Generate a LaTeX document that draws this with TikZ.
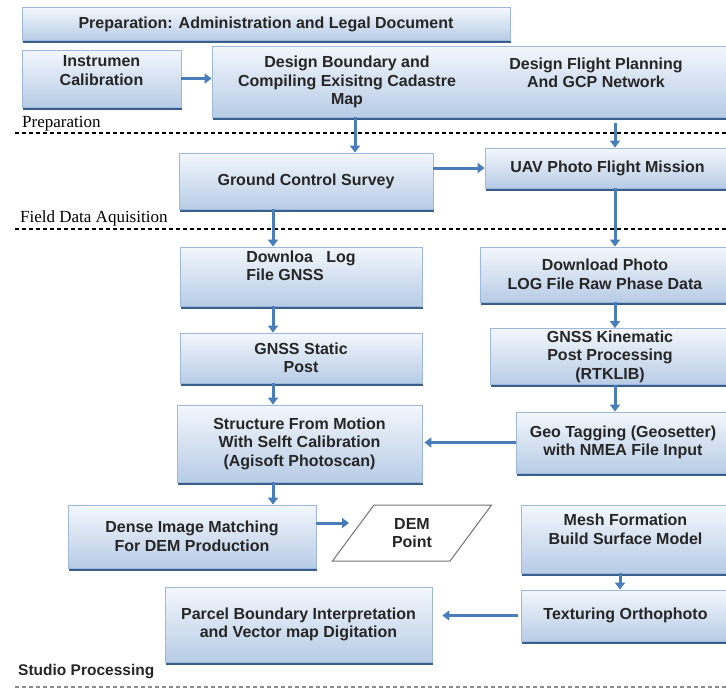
\documentclass[tikz,border=0pt]{standalone}
\usepackage{fontspec}
\setmainfont{Liberation Sans}
\newfontfamily\serifface{Liberation Serif}
\usepackage{tikz}
\usetikzlibrary{arrows.meta,shadows,shapes.geometric}
\definecolor{boxtop}{HTML}{F3F7FC}
\definecolor{boxbot}{HTML}{B7CCE6}
\definecolor{boxline}{HTML}{9DB8DB}
\definecolor{boxshade}{HTML}{3A5F8C}
\definecolor{flowblue}{HTML}{4A7EBB}

\begin{document}
\begin{tikzpicture}[x=1pt,y=-1pt,
    box/.style={rectangle,draw=boxline,line width=0.8pt,top color=boxtop,bottom color=boxbot,
        drop shadow={shadow xshift=1pt,shadow yshift=-2.5pt,fill=boxshade,opacity=1},
        font=\fontsize{16}{18.5}\selectfont\bfseries,text=black!85,align=center,inner sep=2pt},
    boxtext/.style={font=\fontsize{16}{18.5}\selectfont\bfseries,text=black!85,align=center},
    flow/.style={draw=flowblue,line width=3pt,-{Triangle[width=10pt,length=7pt]}},
    sep/.style={dashed,dash pattern=on 4pt off 3pt,line width=1.2pt},
    phase/.style={anchor=south west,inner sep=0pt,font=\serifface\fontsize{17}{17}\selectfont}]
    \useasboundingbox (0,0) rectangle (726,688);
    \node[box,minimum width=488,minimum height=33] (admin) at (266,24) {Preparation: Administration and Legal Document};
    \node[box,minimum width=159,minimum height=57,text depth=16pt] (calib) at (101.5,78.5) {Instrumen\\Calibration};
    \node[box,minimum width=518,minimum height=71] (design) at (471,81.5) {};
    \node[boxtext] (cadastre) at (347,82) {Design Boundary and\\Compiling Exisitng Cadastre\\Map};
    \node[boxtext] (flightplan) at (596,73) {Design Flight Planning\\And GCP Network};
    \node[box,minimum width=254,minimum height=56] (gcs) at (306,181) {Ground Control Survey};
    \node[box,minimum width=245,minimum height=40] (uav) at (607.5,168) {UAV Photo Flight Mission};
    \node[box,minimum width=242,minimum height=59,align=left,text depth=22pt] (dlgnss) at (301,276.5) {Downloa\ \ \ Log\\File GNSS};
    \node[box,minimum width=250,minimum height=55] (dlphoto) at (605,274.5) {Download Photo\\LOG File Raw Phase Data};
    \node[box,minimum width=242,minimum height=50] (static) at (301,358) {GNSS Static\\Post};
    \node[box,minimum width=240,minimum height=51] (kinem) at (610,356.5) {GNSS Kinematic\\Post Processing\\(RTKLIB)};
    \node[box,minimum width=245,minimum height=77] (sfm) at (299.5,443.5) {Structure From Motion\\With Selft Calibration\\(Agisoft Photoscan)};
    \node[box,minimum width=214,minimum height=61] (geotag) at (623,442.5) {Geo Tagging (Geosetter)\\with NMEA File Input};
    \node[box,minimum width=248,minimum height=63] (dense) at (192,536.5) {Dense Image Matching\\For DEM Production};
    \node[trapezium,trapezium left angle=55,trapezium right angle=125,trapezium stretches=true,
        minimum width=160,minimum height=56,draw=black!55,line width=1pt,fill=white,
        font=\fontsize{16}{18.5}\selectfont\bfseries,text=black!85,align=center] (dem) at (412,533) {DEM\\Point};
    \node[box,minimum width=209,minimum height=68,text depth=20pt] (mesh) at (625.5,539) {Mesh Formation\\Build Surface Model};
    \node[box,minimum width=209,minimum height=51] (texture) at (625.5,615.5) {Texturing Orthophoto};
    \node[box,minimum width=267,minimum height=75] (parcel) at (298.5,624.5) {Parcel Boundary Interpretation\\and Vector map Digitation};
    \coordinate (demin) at (349,523);
    \draw[sep] (15,133) -- (726,133);
    \draw[sep] (15,229) -- (726,229);
    \draw[sep,black!45] (15,687) -- (726,687);
    \node[phase] (prep) at (22,131) {Preparation};
    \node[phase] (field) at (20,226) {Field Data Aquisition};
    \node[anchor=south west,inner sep=0pt,font=\fontsize{15.5}{16}\selectfont\bfseries,text=black!85] (studio) at (18,679) {Studio Processing};
    \draw[flow] (calib.east) -- (calib.east -| design.west);
    \draw[flow] (design.south -| 355,0) -- (gcs.north -| 355,0);
    \draw[flow] ([yshift=-6pt]design.south -| 615,0) -- (uav.north -| 615,0);
    \draw[flow] (gcs.east |- uav.west) -- (uav.west);
    \draw[flow] (gcs.south -| 273,0) -- (dlgnss.north -| 273,0);
    \draw[flow] (uav.south -| 615,0) -- (dlphoto.north -| 615,0);
    \draw[flow] (dlgnss.south -| 273,0) -- (static.north -| 273,0);
    \draw[flow] (dlphoto.south -| 615,0) -- (kinem.north -| 615,0);
    \draw[flow] (static.south -| 273,0) -- (sfm.north -| 273,0);
    \draw[flow] (kinem.south -| 615,0) -- (geotag.north -| 615,0);
    \draw[flow] (geotag.west) -- ([xshift=2pt]geotag.west -| sfm.east);
    \draw[flow] (sfm.south -| 273,0) -- (dense.north -| 273,0);
    \draw[flow] (dense.east |- demin) -- (demin);
    \draw[flow] (mesh.south -| 620,0) -- (texture.north -| 620,0);
    \draw[flow] ([xshift=-3pt]texture.west) -- ([xshift=10pt]texture.west -| parcel.east);
\end{tikzpicture}
\end{document}
